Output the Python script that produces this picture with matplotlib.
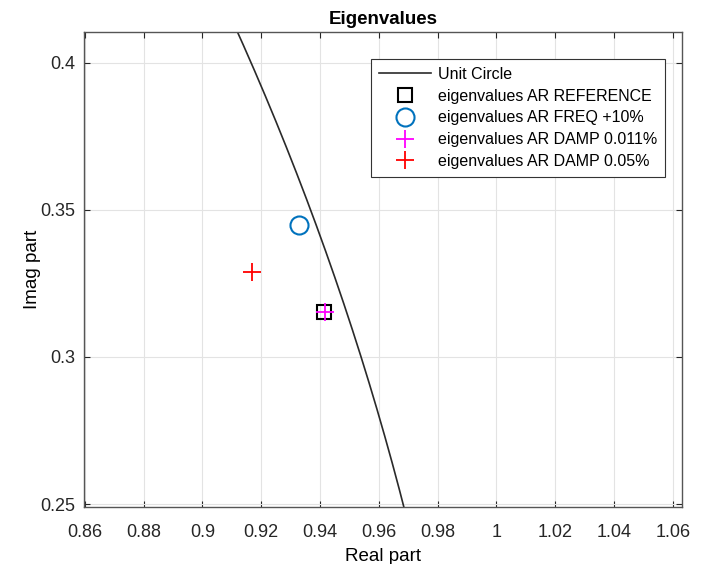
import numpy as np
import matplotlib
matplotlib.use('Agg')
import matplotlib.pyplot as plt

plt.rcParams['font.family'] = ['Liberation Sans', 'DejaVu Sans']

# eigenvalues (real, imag)
ref_re, ref_im = [0.9414], [0.3153]
freq_re, freq_im = [0.9329], [0.3447]
damp1_re, damp1_im = [0.9418], [0.3152]
damp2_re, damp2_im = [0.9169], [0.3290]

labels = ['Unit Circle',
          'eigenvalues AR REFERENCE',
          'eigenvalues AR FREQ +10%',
          'eigenvalues AR DAMP 0.011%',
          'eigenvalues AR DAMP 0.05%']

x_ticks = [0.86, 0.88, 0.9, 0.92, 0.94, 0.96, 0.98, 1.0, 1.02, 1.04, 1.06]
x_ticklabels = ['0.86', '0.88', '0.9', '0.92', '0.94', '0.96', '0.98', '1', '1.02', '1.04', '1.06']
y_ticks = [0.25, 0.3, 0.35, 0.4]
y_ticklabels = ['0.25', '0.3', '0.35', '0.4']

fig = plt.figure(figsize=(7.08, 5.64), dpi=100)
ax = fig.add_axes([84 / 708, 1 - 507 / 564, 598 / 708, 475 / 564])

theta = np.linspace(0, 2 * np.pi, 2000)
ax.plot(np.cos(theta), np.sin(theta), color='#2a2a2a', lw=1.2, label=labels[0])
ax.plot(ref_re, ref_im, ls='none', marker='s', ms=10, mfc='none', mec='black', mew=1.5, label=labels[1])
ax.plot(freq_re, freq_im, ls='none', marker='o', ms=13, mfc='none', mec='#0072BD', mew=1.5, label=labels[2])
ax.plot(damp1_re, damp1_im, ls='none', marker='+', ms=13, mec='#FF00FF', mew=1.3, label=labels[3])
ax.plot(damp2_re, damp2_im, ls='none', marker='+', ms=13, mec='#FF0000', mew=1.3, label=labels[4])

ax.set_xlim(0.8597, 1.0631)
ax.set_ylim(0.249, 0.4104)
ax.set_xticks(x_ticks)
ax.set_xticklabels(x_ticklabels)
ax.set_yticks(y_ticks)
ax.set_yticklabels(y_ticklabels)
ax.grid(True, color='#e3e3e3', lw=0.8)
ax.set_axisbelow(True)
ax.tick_params(direction='in', top=True, right=True, length=4, width=0.8,
               colors='#262626', labelsize=13)
ax.tick_params(axis='x', pad=12)
ax.tick_params(axis='y', pad=6)
for s in ax.spines.values():
    s.set_color('#555555')
    s.set_linewidth(1.0)

ax.set_title('Eigenvalues', fontsize=13.5, fontweight='bold', pad=6)
ax.set_xlabel('Real part', fontsize=13.5, labelpad=5)
ax.set_ylabel('Imag part', fontsize=13.5, labelpad=0)

leg = ax.legend(loc='upper right', bbox_to_anchor=(0.9716, 0.943), borderaxespad=0,
                fontsize=11.5, fancybox=False, framealpha=1, edgecolor='#333333',
                handlelength=3.3, handletextpad=0.4, labelspacing=0.42, borderpad=0.5)
leg.get_frame().set_linewidth(0.8)

fig.savefig('out.png', dpi=100)
